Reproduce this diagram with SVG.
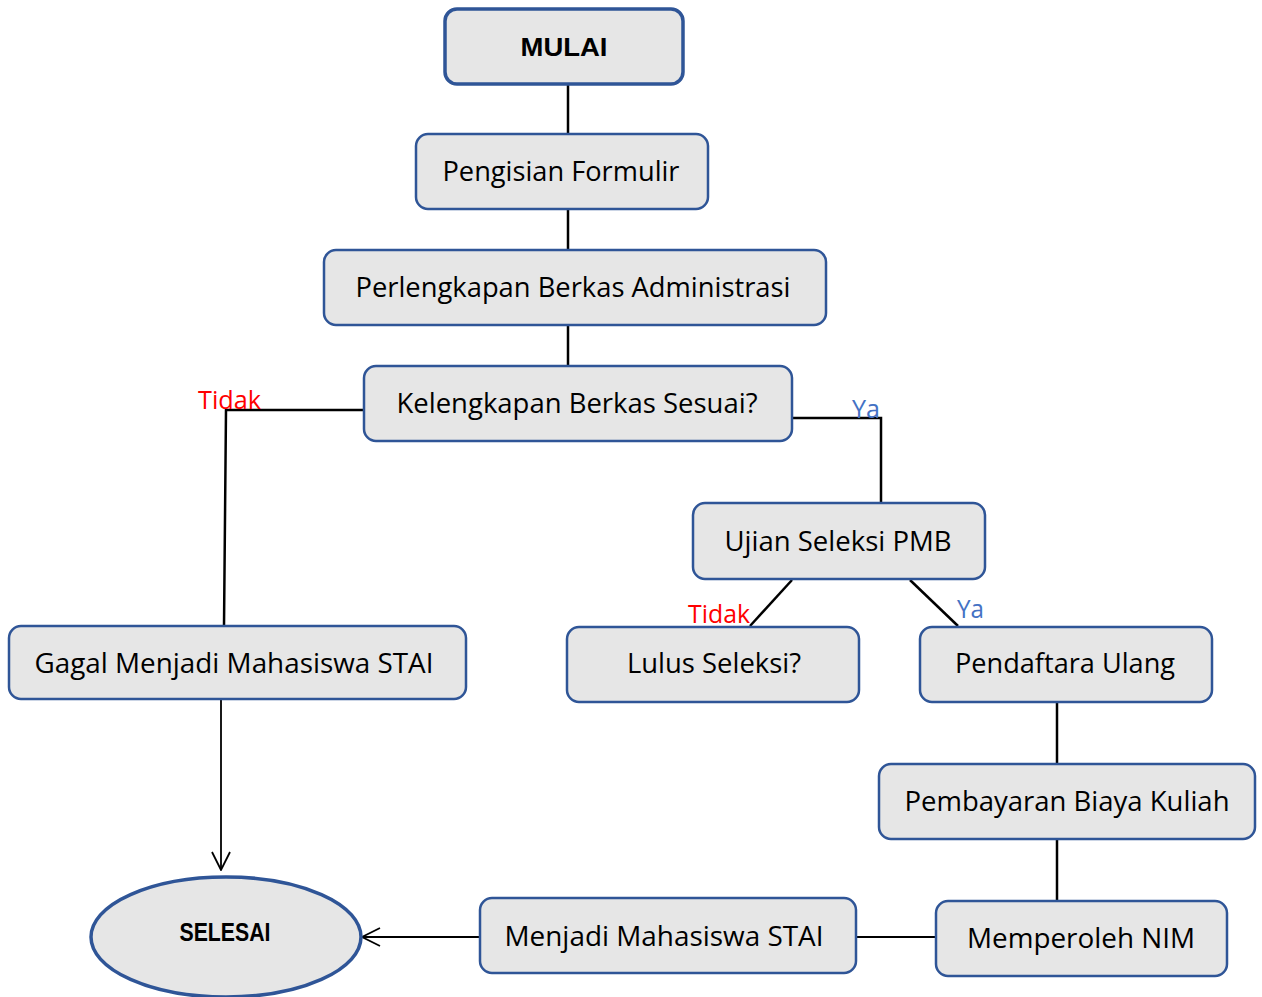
<svg xmlns="http://www.w3.org/2000/svg" width="1262" height="997" viewBox="0 0 1262 997">
<defs>
<style>
.box{fill:#E6E6E6;stroke:#2F5597;stroke-width:2.5}
.t{font-family:"Open Sans","Liberation Sans",sans-serif;font-size:27px;fill:#000;text-anchor:middle}
.b{font-family:"Liberation Sans",Arial,sans-serif;font-size:25px;font-weight:bold;fill:#000;text-anchor:middle}
.no{font-family:"Open Sans","Liberation Sans",sans-serif;font-size:25px;fill:#FF0000}
.yes{font-family:"Open Sans","Liberation Sans",sans-serif;font-size:25px;fill:#4472C4}
.c{fill:none;stroke:#000;stroke-width:2.5}
.ca{fill:none;stroke:#000;stroke-width:1.8}
</style>
<marker id="arr" viewBox="0 0 20 20" refX="19" refY="10" markerWidth="20" markerHeight="20" markerUnits="userSpaceOnUse" orient="auto">
<path d="M1,1 L19,10 L1,19" fill="none" stroke="#000" stroke-width="1.8"/>
</marker>
</defs>
<rect width="1262" height="997" fill="#fff"/>
<g id="connectors">
<line class="c" x1="568" y1="84" x2="568" y2="134"/>
<line class="c" x1="568" y1="209" x2="568" y2="250"/>
<line class="c" x1="568" y1="325" x2="568" y2="366"/>
<polyline class="c" points="364,410 226,410 224,626"/>
<polyline class="c" points="792,418 881,418 881,503"/>
<line class="c" x1="792" y1="580" x2="750" y2="626"/>
<line class="c" x1="910" y1="580" x2="958" y2="626"/>
<line class="c" x1="1057" y1="702" x2="1057" y2="764"/>
<line class="c" x1="1057" y1="839" x2="1057" y2="901"/>
<line class="ca" x1="857" y1="937" x2="936" y2="937"/>
<line class="ca" x1="221" y1="699" x2="221" y2="870" marker-end="url(#arr)"/>
<line class="ca" x1="480" y1="937" x2="362" y2="937" marker-end="url(#arr)"/>
<text class="no" x="198" y="409" textLength="63" lengthAdjust="spacingAndGlyphs">Tidak</text>
<text class="yes" x="852" y="418" textLength="28" lengthAdjust="spacingAndGlyphs">Ya</text>
<text class="no" x="688" y="623" textLength="62" lengthAdjust="spacingAndGlyphs">Tidak</text>
<text class="yes" x="957" y="618" textLength="27" lengthAdjust="spacingAndGlyphs">Ya</text>
</g>
<g id="mulai"><rect class="box" x="445" y="9" width="238" height="75" rx="12" style="stroke-width:3.5"/><text class="b" x="564" y="56" textLength="87" lengthAdjust="spacingAndGlyphs">MULAI</text></g>
<g id="pengisian"><rect class="box" x="416" y="134" width="292" height="75" rx="12"/><text class="t" x="561" y="181" textLength="237" lengthAdjust="spacingAndGlyphs">Pengisian Formulir</text></g>
<g id="perlengkapan"><rect class="box" x="324" y="250" width="502" height="75" rx="12"/><text class="t" x="573" y="297" textLength="435" lengthAdjust="spacingAndGlyphs">Perlengkapan Berkas Administrasi</text></g>
<g id="kelengkapan"><rect class="box" x="364" y="366" width="428" height="75" rx="12"/><text class="t" x="577" y="413" textLength="361" lengthAdjust="spacingAndGlyphs">Kelengkapan Berkas Sesuai?</text></g>
<g id="ujian"><rect class="box" x="693" y="503" width="292" height="76" rx="12"/><text class="t" x="838" y="551" textLength="227" lengthAdjust="spacingAndGlyphs">Ujian Seleksi PMB</text></g>
<g id="gagal"><rect class="box" x="9" y="626" width="457" height="73" rx="12"/><text class="t" x="234" y="673" textLength="399" lengthAdjust="spacingAndGlyphs">Gagal Menjadi Mahasiswa STAI</text></g>
<g id="lulus"><rect class="box" x="567" y="627" width="292" height="75" rx="12"/><text class="t" x="714" y="673" textLength="174" lengthAdjust="spacingAndGlyphs">Lulus Seleksi?</text></g>
<g id="pendaftaran"><rect class="box" x="920" y="627" width="292" height="75" rx="12"/><text class="t" x="1065" y="673" textLength="220" lengthAdjust="spacingAndGlyphs">Pendaftara Ulang</text></g>
<g id="pembayaran"><rect class="box" x="879" y="764" width="376" height="75" rx="12"/><text class="t" x="1067" y="811" textLength="325" lengthAdjust="spacingAndGlyphs">Pembayaran Biaya Kuliah</text></g>
<g id="nim"><rect class="box" x="936" y="901" width="291" height="75" rx="12"/><text class="t" x="1081" y="948" textLength="228" lengthAdjust="spacingAndGlyphs">Memperoleh NIM</text></g>
<g id="menjadi"><rect class="box" x="480" y="898" width="376" height="75" rx="12"/><text class="t" x="664" y="946" textLength="319" lengthAdjust="spacingAndGlyphs">Menjadi Mahasiswa STAI</text></g>
<g id="selesai"><ellipse class="box" cx="226" cy="937" rx="135" ry="60" style="stroke-width:3.5"/><text class="b" x="225" y="941" textLength="91" lengthAdjust="spacingAndGlyphs">SELESAI</text></g>
</svg>
